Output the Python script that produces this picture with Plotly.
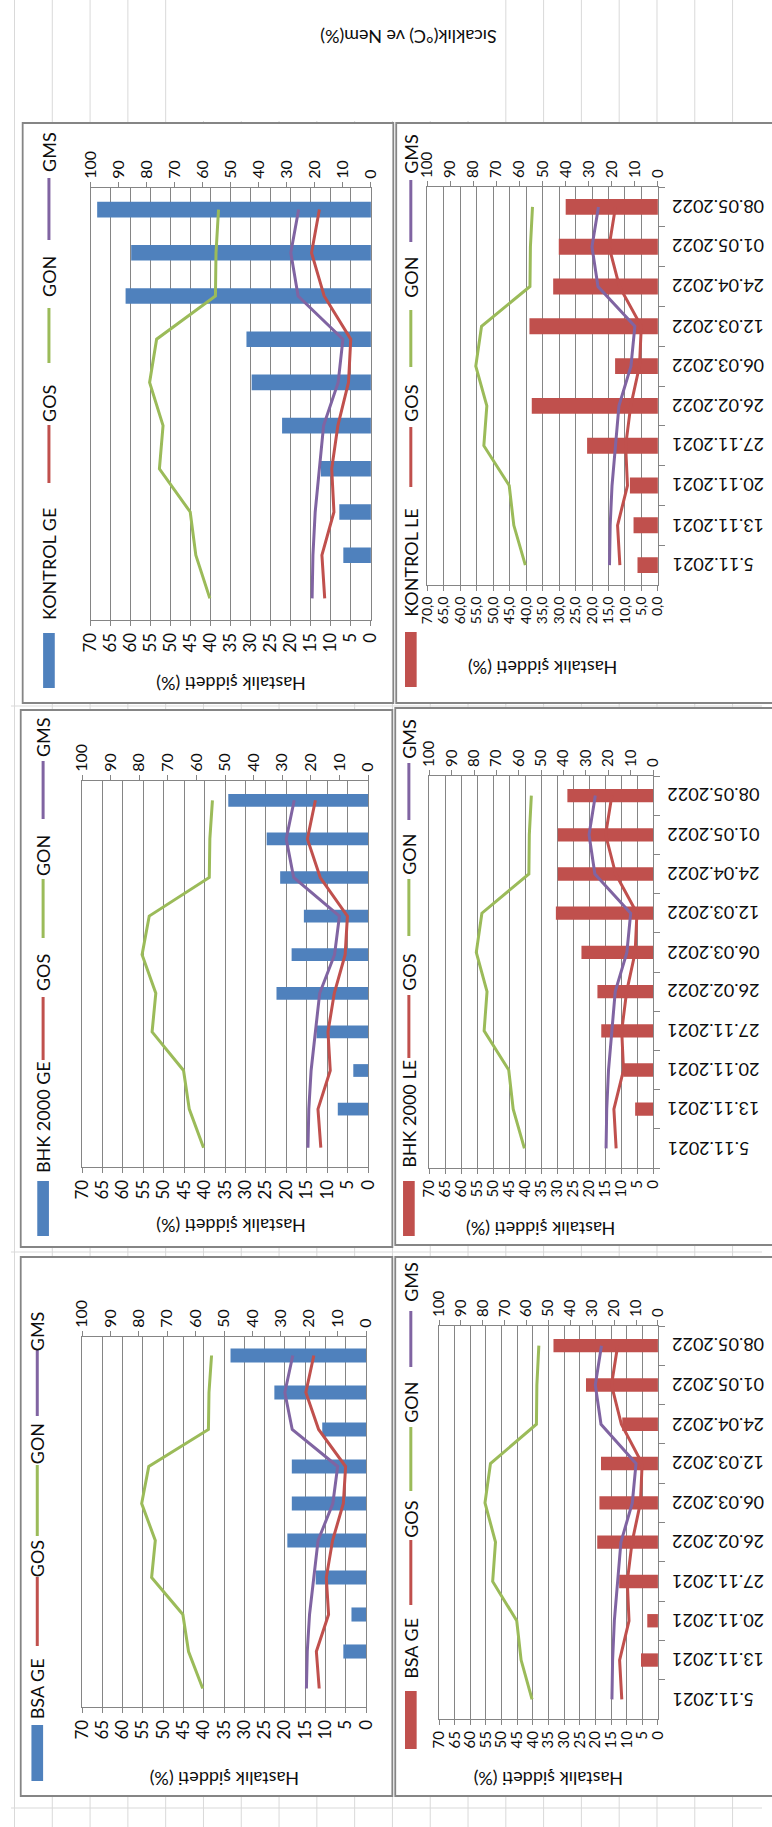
import plotly.graph_objects as go

W, H = 772, 1827

# Sampling dates (category axis, bottom -> top)
dates = ['5.11.2021', '13.11.2021', '20.11.2021', '27.11.2021', '26.02.2022',
         '06.03.2022', '12.03.2022', '24.04.2022', '01.05.2022', '08.05.2022']

# Weather series on the secondary axis (°C / %)
gos = [16.5, 17.5, 13.2, 14.0, 11.8, 8.0, 7.2, 16.7, 21.2, 18.4]
gon = [57.5, 62.5, 64.5, 75.5, 74.2, 79.0, 76.5, 55.5, 55.3, 54.4]
gms = [21.0, 20.7, 19.9, 18.3, 16.9, 11.7, 10.0, 26.0, 28.6, 25.8]

# Disease severity (%) per treatment
kontrol_ge = [0, 6.9, 7.9, 12.5, 22.2, 29.8, 31.1, 61.3, 59.9, 68.4]
kontrol_le = [6.2, 7.4, 8.5, 21.5, 38.3, 13.0, 39.0, 31.8, 30.1, 28.0]
bhk_ge = [0, 7.4, 3.6, 12.6, 22.4, 18.7, 15.7, 21.5, 24.8, 34.2]
bhk_le = [0, 5.6, 9.3, 16.2, 17.4, 22.4, 30.4, 29.8, 29.8, 26.8]
bsa_ge = [0, 5.6, 3.6, 12.4, 19.4, 18.3, 18.3, 10.8, 22.6, 33.4]
bsa_le = [0, 5.4, 3.4, 12.4, 19.4, 18.7, 18.2, 11.4, 23.0, 33.4]

series_names = ['GOS', 'GON', 'GMS']
severity_title = 'Hastalık şiddeti (%)'
weather_title = 'Sıcaklık(°C) ve Nem(%)'

BLUE = '#4F81BD'
RED = '#C0504D'
GREEN = '#9BBB59'
PURPLE = '#8064A2'
GRID = '#858585'
FRAME = '#858585'
CELL = '#d9d9d9'
TXT = '#0d0d0d'
FONT = 'Lato'


def X(v):
    return v / W


def Y(v):
    return 1 - v / H


# Panel geometry in pixels: plot box, frame box, legend column, title position
panels = [
    dict(name='KONTROL GE', bars=kontrol_ge, color=BLUE, plot=(82, 370, 188, 620),
         frame=(12, 393, 123, 703), dates=False, fmt='', pfont=17, sfont=16, width=0.36,
         lx=39, rect=(633, 688), name_y=564, lines=[(425, 483), (308, 363), (178, 240)],
         text_y=[403, 276, 152], title=(226, 684)),
    dict(name='KONTROL LE', bars=kontrol_le, color=RED, plot=(428, 665, 187, 585),
         frame=(396, 790, 123, 703), dates=True, fmt='.1f', pfont=14, sfont=15, width=0.40,
         lx=411, rect=(632, 687), name_y=563, lines=[(427, 487), (310, 367), (180, 242)],
         text_y=[403, 277, 154], title=(547, 668)),
    dict(name='BHK 2000 GE', bars=bhk_ge, color=BLUE, plot=(73, 367, 781, 1167),
         frame=(10, 392, 710, 1247), dates=False, fmt='', pfont=17, sfont=16, width=0.33,
         lx=33, rect=(1181, 1236), name_y=1117, lines=[(997, 1060), (879, 938), (761, 819)],
         text_y=[973, 856, 737], title=(226, 1226)),
    dict(name='BHK 2000 LE', bars=bhk_le, color=RED, plot=(430, 660, 776, 1168),
         frame=(395, 790, 708, 1245), dates=True, fmt='', pfont=15, sfont=15, width=0.34,
         lx=409, rect=(1181, 1236), name_y=1114, lines=[(995, 1058), (879, 936), (763, 820)],
         text_y=[972, 854, 739], title=(545, 1229)),
    dict(name='BSA GE', bars=bsa_ge, color=BLUE, plot=(73, 365, 1337, 1707),
         frame=(10, 392, 1257, 1796), dates=False, fmt='', pfont=17, sfont=16, width=0.38,
         lx=27, rect=(1725, 1781), name_y=1689, lines=[(1577, 1646), (1465, 1536), (1349, 1416)],
         text_y=[1559, 1444, 1331], title=(220, 1779)),
    dict(name='BSA GE', bars=bsa_le, color=RED, plot=(440, 665, 1326, 1719),
         frame=(395, 790, 1257, 1796), dates=True, fmt='', pfont=15, sfont=15, width=0.34,
         lx=411, rect=(1691, 1749), name_y=1648, lines=[(1540, 1605), (1427, 1491), (1311, 1367)],
         text_y=[1519, 1402, 1282], title=(552, 1779)),
]

line_data = [gos, gon, gms]
line_colors = [RED, GREEN, PURPLE]


def ref(ax, n):
    return ax + ('' if n == 1 else str(n))


def key(ax, n):
    return ax + 'axis' + ('' if n == 1 else str(n))


def label(x, y, text, angle, size, xanchor='center', yref='paper'):
    return dict(x=x, y=y, xref='paper', yref=yref, text=text, showarrow=False,
                textangle=angle, xanchor=xanchor, yanchor='middle',
                font=dict(family=FONT, size=size, color=TXT))


fig = go.Figure()
layout = {}
shapes = []
annotations = []

# Spreadsheet cell grid behind the charts
k = 0
while 3.6 + 38.85 * k < W:
    xv = 3.6 + 38.85 * k
    shapes.append(dict(type='line', xref='paper', yref='paper', x0=X(xv), x1=X(xv),
                       y0=0, y1=1, line=dict(color=CELL, width=1), layer='below'))
    k += 1
for yv in (706, 1252, 1808):
    shapes.append(dict(type='line', xref='paper', yref='paper', x0=0, x1=1,
                       y0=Y(yv), y1=Y(yv), line=dict(color=CELL, width=1), layer='below'))
# Text box holding the secondary axis title
shapes.append(dict(type='rect', xref='paper', yref='paper', x0=X(162), x1=X(505),
                   y0=Y(121), y1=Y(0), fillcolor='white', line=dict(width=0), layer='below'))

for i, p in enumerate(panels):
    n1, n2, ny = 2 * i + 1, 2 * i + 2, i + 1
    x0, x1, y0, y1 = p['plot']
    fx0, fx1, fy0, fy1 = p['frame']

    # chart frame
    shapes.append(dict(type='rect', xref='paper', yref='paper', x0=X(fx0), x1=X(fx1),
                       y0=Y(fy1), y1=Y(fy0), fillcolor='white',
                       line=dict(color=FRAME, width=1.8), layer='below'))

    fig.add_trace(go.Bar(x=p['bars'], y=dates, orientation='h', marker_color=p['color'],
                         marker_line_width=0, width=p['width'], xaxis=ref('x', n1),
                         yaxis=ref('y', ny), showlegend=False, name=p['name']))
    for vals, col, nm in zip(line_data, line_colors, series_names):
        fig.add_trace(go.Scatter(x=vals, y=dates, mode='lines', line=dict(color=col, width=3),
                                 xaxis=ref('x', n2), yaxis=ref('y', ny), showlegend=False,
                                 name=nm))

    layout[key('x', n1)] = dict(
        domain=[X(x0), X(x1)], anchor=ref('y', ny), range=[70, 0], side='bottom',
        tickmode='linear', tick0=0, dtick=5, tickangle=-90, ticks='outside', ticklen=5,
        tickcolor=GRID, showgrid=True, gridcolor=GRID, gridwidth=1, showline=True,
        linecolor=GRID, linewidth=1, mirror=True, zeroline=False, tickformat=p['fmt'],
        tickfont=dict(family=FONT, size=p['pfont'], color=TXT))
    layout[key('x', n2)] = dict(
        overlaying=ref('x', n1), anchor=ref('y', ny), side='top', range=[100, 0],
        tickmode='linear', tick0=0, dtick=10, tickangle=-90, ticks='outside', ticklen=5,
        tickcolor=GRID, showgrid=False, showline=True, linecolor=GRID, zeroline=False,
        tickfont=dict(family=FONT, size=p['sfont'], color=TXT))
    layout[key('y', ny)] = dict(
        domain=[Y(y1), Y(y0)], anchor=ref('x', n1), type='category',
        categoryorder='array', categoryarray=dates, range=[-0.5, len(dates) - 0.5],
        side='right', showline=True, linecolor=GRID, mirror=True, showgrid=False,
        ticks='outside' if p['dates'] else '', tickson='boundaries', ticklen=6,
        tickcolor=GRID, showticklabels=False)

    # date labels, upside down, to the right of the category axis
    if p['dates']:
        for d in dates:
            annotations.append(label(X(x1 + 13), d, d, 180, 18, xanchor='left',
                                     yref=ref('y', ny)))

    # legend column, written bottom-to-top
    lx = p['lx']
    shapes.append(dict(type='rect', xref='paper', yref='paper', x0=X(lx - 6), x1=X(lx + 6),
                       y0=Y(p['rect'][1]), y1=Y(p['rect'][0]), fillcolor=p['color'],
                       line=dict(width=0)))
    annotations.append(label(X(lx), Y(p['name_y']), p['name'], -90, 18))
    for (ly0, ly1), ty, col, nm in zip(p['lines'], p['text_y'], line_colors, series_names):
        shapes.append(dict(type='line', xref='paper', yref='paper', x0=X(lx), x1=X(lx),
                           y0=Y(ly1), y1=Y(ly0), line=dict(color=col, width=3)))
        annotations.append(label(X(lx), Y(ty), nm, -90, 18))

    # primary axis title
    tx, ty = p['title']
    annotations.append(label(X(tx), Y(ty), severity_title, 180, 18))

annotations.append(label(X(408), Y(37), weather_title, 180, 18))

fig.update_layout(
    width=W, height=H, autosize=False, margin=dict(l=0, r=0, t=0, b=0),
    paper_bgcolor='white', plot_bgcolor='rgba(0,0,0,0)', separators=', ',
    shapes=shapes, annotations=annotations, showlegend=False, **layout)

fig.write_html('out.html')
